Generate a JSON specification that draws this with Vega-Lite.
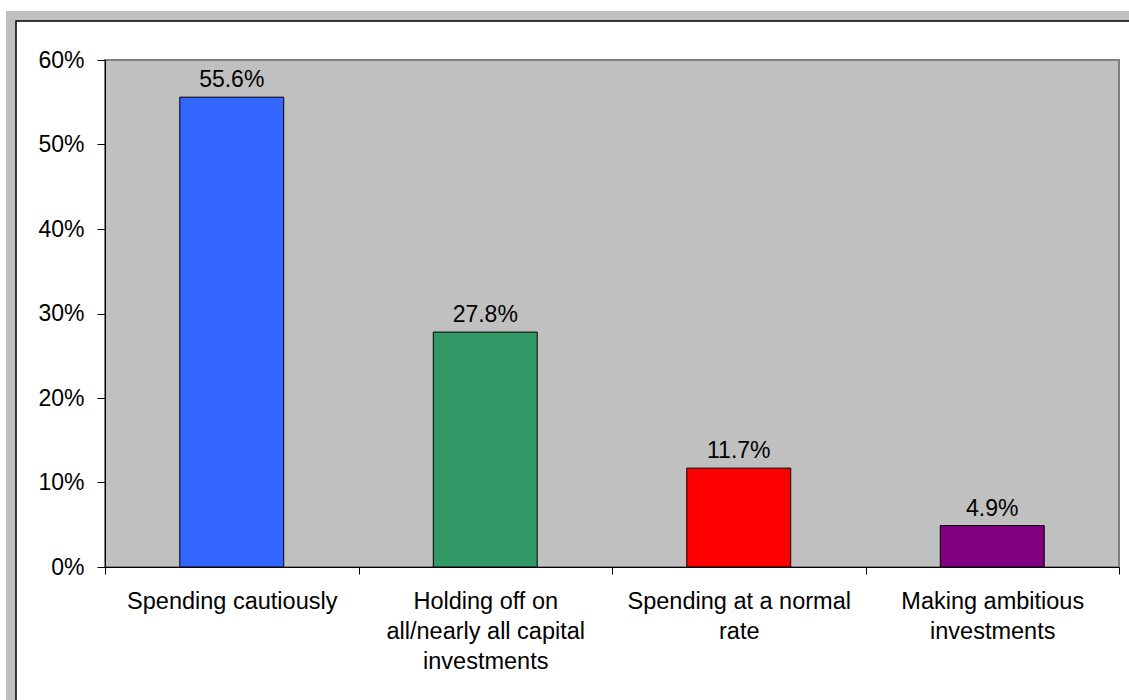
{
  "$schema": "https://vega.github.io/schema/vega-lite/v6.json",
  "width": 1123,
  "height": 689,
  "autosize": {"type": "none"},
  "padding": {"left": 16, "top": 21, "right": -10, "bottom": -10},
  "background": "white",
  "config": {"view": {"stroke": null, "fill": null}, "font": "Liberation Sans"},
  "resolve": {"scale": {"x": "independent", "color": "independent"}},
  "layer": [
    {
      "data": {"values": [{}]},
      "mark": {"type": "rect", "fill": null, "stroke": "#C0C0C0", "strokeWidth": 20},
      "encoding": {}
    },
    {
      "data": {"values": [{}]},
      "mark": {"type": "rect", "fill": "white", "stroke": "black", "strokeWidth": 1.5},
      "encoding": {}
    },
    {
      "data": {"values": [{}]},
      "mark": {"type": "rect", "fill": "#C0C0C0", "stroke": "#808080", "strokeWidth": 2},
      "encoding": {
        "x": {"datum": 0, "type": "quantitative", "scale": {"domain": [0, 1], "range": [89, 1103]}, "axis": null},
        "x2": {"datum": 1},
        "y": {"datum": 0, "type": "quantitative", "scale": {"domain": [0, 0.6], "range": [546, 39], "nice": false}},
        "y2": {"datum": 0.6}
      }
    },
    {
      "data": {
        "values": [
          {"category": "Spending cautiously", "value": 0.556},
          {"category": "Holding off on|all/nearly all capital|investments", "value": 0.278},
          {"category": "Spending at a normal|rate", "value": 0.117},
          {"category": "Making ambitious|investments", "value": 0.049}
        ]
      },
      "encoding": {
        "x": {
          "field": "category",
          "type": "nominal",
          "sort": null,
          "scale": {"range": [89, 1103], "paddingInner": 0, "paddingOuter": 0},
          "axis": {
            "orient": "bottom",
            "offset": -143,
            "title": null,
            "zindex": 1,
            "tickBand": "extent",
            "tickSize": 7,
            "tickColor": "black",
            "domainColor": "black",
            "labelFont": "Liberation Sans",
            "labelFontSize": 23.5,
            "labelColor": "black",
            "labelPadding": 15,
            "labelLineHeight": 30,
            "labelAngle": 0,
            "labelBaseline": "top",
            "labelLimit": 0,
            "labelExpr": "split(datum.label, '|')"
          }
        },
        "y": {
          "field": "value",
          "type": "quantitative",
          "scale": {"domain": [0, 0.6], "range": [546, 39], "nice": false},
          "axis": {
            "orient": "left",
            "offset": -89,
            "title": null,
            "zindex": 1,
            "grid": false,
            "values": [0, 0.1, 0.2, 0.3, 0.4, 0.5, 0.6],
            "format": ".0%",
            "tickSize": 8,
            "tickColor": "black",
            "domainColor": "black",
            "labelFont": "Liberation Sans",
            "labelFontSize": 23,
            "labelColor": "black",
            "labelPadding": 13
          }
        }
      },
      "layer": [
        {
          "mark": {"type": "bar", "stroke": "black", "strokeWidth": 1, "width": {"band": 0.41}},
          "encoding": {
            "color": {
              "field": "category",
              "type": "nominal",
              "scale": {
                "domain": ["Spending cautiously", "Holding off on|all/nearly all capital|investments", "Spending at a normal|rate", "Making ambitious|investments"],
                "range": ["#3366FF", "#339966", "#FF0000", "#800080"]
              },
              "legend": null
            }
          }
        },
        {
          "mark": {"type": "text", "fontSize": 23, "font": "Liberation Sans", "color": "black", "dy": -10, "baseline": "alphabetic", "align": "center"},
          "encoding": {
            "text": {"field": "value", "type": "quantitative", "format": ".1%"}
          }
        }
      ]
    }
  ]
}
